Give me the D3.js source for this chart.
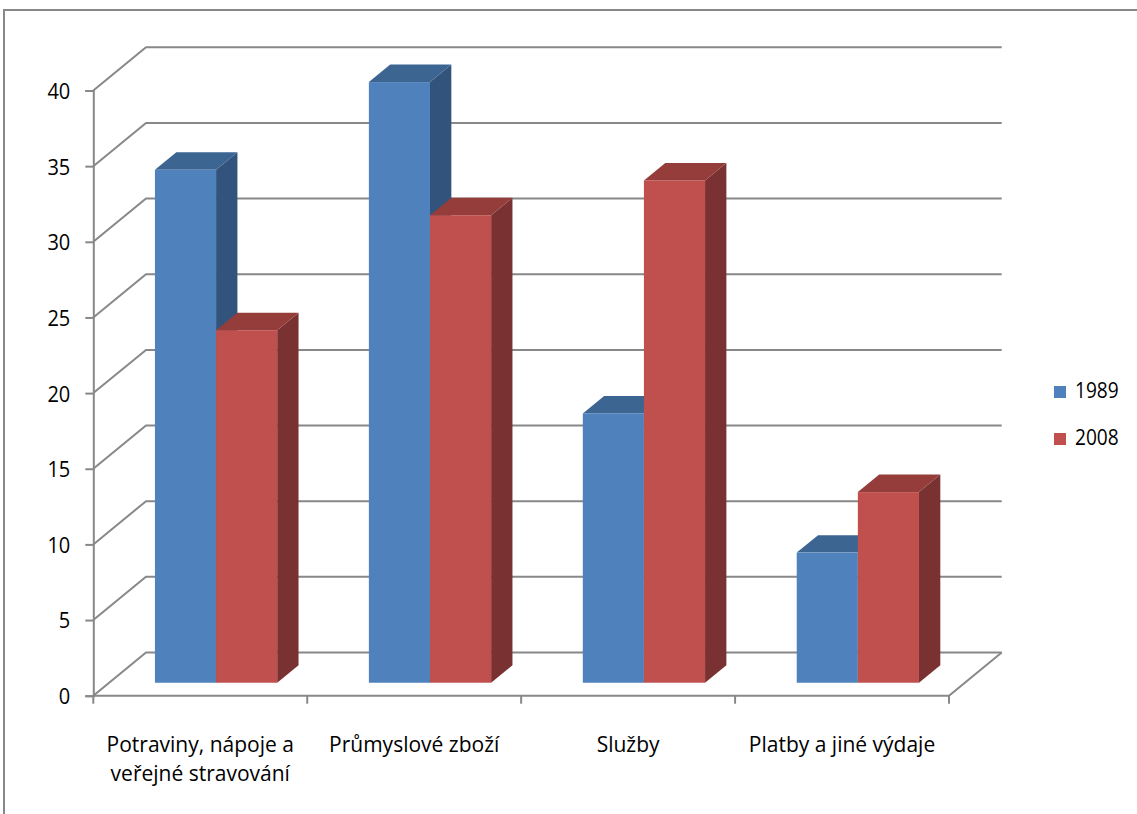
<!DOCTYPE html>
<html>
<head>
<meta charset="utf-8">
<script src="https://cdn.jsdelivr.net/npm/d3@7"></script>
<style>
  body { margin: 0; background: #fff; }
  svg { display: block; }
  text { font-family: "Open Sans", "Noto Sans", sans-serif; fill: #000; }
</style>
</head>
<body>
<svg id="chart" width="1137" height="814"></svg>
<script>
// Household expenditure structure (%), 1989 vs 2008
const categories = ["Potraviny, nápoje a veřejné stravování", "Průmyslové zboží", "Služby", "Platby a jiné výdaje"];
const categoryLines = [["Potraviny, nápoje a", "veřejné stravování"], ["Průmyslové zboží"], ["Služby"], ["Platby a jiné výdaje"]];
const seriesNames = ["1989", "2008"];
const values1989 = [33.9, 39.7, 17.8, 8.6];
const values2008 = [23.3, 30.9, 33.2, 12.6];
const yTicks = [0, 5, 10, 15, 20, 25, 30, 35, 40];

const seriesValues = [values1989, values2008];
const palette = {
  "1989": { front: "#4f81bd", top: "#3d6592", side: "#32537c" },
  "2008": { front: "#c0504d", top: "#943d3b", side: "#7a3131" }
};

const svg = d3.select("#chart");

// digits are drawn slightly condensed
const DIGITS = 0.91;

// Oblique 3D projection: depth 0 = front plane, depth 1 = back wall
const DX = 52.7, DY = 43.2;
const depthFront = 0.3, depthBack = 0.705;

const x = d3.scaleBand().domain(categories).range([93.3, 949]).padding(0);
const y = d3.scaleLinear().domain([0, 40]).range([695.7, 90.5]);
const barW = x.bandwidth() / 3.5;                       // gap width 150 %
const xs = d3.scaleBand().domain(seriesNames).range([0, 2 * barW]).padding(0);
const groupOffset = (x.bandwidth() - 2 * barW) / 2;

const gridColor = "#888888";
const x0 = x.range()[0], x1 = x.range()[1];

// outer chart frame
svg.append("rect").attr("x", 4).attr("y", 10).attr("width", 1300).attr("height", 1000)
  .attr("fill", "none").attr("stroke", gridColor).attr("stroke-width", 2);

const grid = svg.append("g").attr("stroke", gridColor).attr("stroke-width", 2).attr("fill", "none");

// back wall gridlines plus their run along the side wall
grid.selectAll("path.grid").data(yTicks).join("path").attr("class", "grid")
  .attr("d", v => `M${x0},${y(v)}L${x0 + DX},${y(v) - DY}L${x1 + DX},${y(v) - DY}`);

// floor front edge and right edge
grid.append("path").attr("d", `M${x0},${y(0)}L${x1},${y(0)}L${x1 + DX},${y(0) - DY}`);

// value axis
const yAxis = d3.axisLeft(y).tickValues(yTicks).tickSize(8).tickPadding(15).tickFormat(d3.format("d"));
const ya = svg.append("g").attr("transform", `translate(${x0},0)`).call(yAxis);
ya.select(".domain").attr("stroke", gridColor).attr("stroke-width", 2);
ya.selectAll(".tick line").attr("stroke", gridColor).attr("stroke-width", 2);
ya.selectAll(".tick text").attr("font-size", 22).attr("dy", "0.36em")
  .attr("x", -23 / DIGITS).attr("transform", `scale(${DIGITS},1)`)
  .style("font-family", '"Open Sans","Noto Sans",sans-serif');

// category axis ticks at band boundaries
const boundaries = categories.map(c => x(c)).concat([x1]);
svg.append("g").attr("stroke", gridColor).attr("stroke-width", 2)
  .selectAll("line").data(boundaries).join("line")
  .attr("x1", d => d).attr("x2", d => d).attr("y1", y(0)).attr("y2", y(0) + 8);

// bars
const bars = [];
categories.forEach((c, i) => {
  seriesNames.forEach((s, j) => bars.push({ cat: c, series: s, value: seriesValues[j][i] }));
});

const ddx = (depthBack - depthFront) * DX, ddy = (depthBack - depthFront) * DY;
const barG = svg.append("g");
bars.forEach(b => {
  const col = palette[b.series];
  const left = x(b.cat) + groupOffset + xs(b.series) + depthFront * DX;
  const right = left + barW;
  const top = y(b.value) - depthFront * DY;
  const bottom = y(0) - depthFront * DY;
  const g = barG.append("g");
  g.append("path").attr("fill", col.side)
    .attr("d", `M${right},${top}L${right + ddx},${top - ddy}L${right + ddx},${bottom - ddy}L${right},${bottom}Z`);
  g.append("path").attr("fill", col.top)
    .attr("d", `M${left},${top}L${right},${top}L${right + ddx},${top - ddy}L${left + ddx},${top - ddy}Z`);
  g.append("rect").attr("fill", col.front)
    .attr("x", left).attr("y", top).attr("width", barW).attr("height", bottom - top);
});

// category labels, centred under each category
const labels = svg.append("g").attr("text-anchor", "middle").attr("font-size", 21);
categories.forEach((c, i) => {
  const cx = x(c) + x.bandwidth() / 2;
  categoryLines[i].forEach((line, k) => {
    labels.append("text").attr("x", cx).attr("y", 752 + k * 29).text(line);
  });
});

// legend
const legend = svg.append("g").attr("transform", "translate(1054,386)");
const li = legend.selectAll("g").data(seriesNames).join("g")
  .attr("transform", (d, i) => `translate(0,${i * 47})`);
li.append("rect").attr("width", 12).attr("height", 12).attr("fill", d => palette[d].front);
li.append("text").attr("x", 21 / DIGITS).attr("y", 12).attr("font-size", 21)
  .attr("transform", `scale(${DIGITS},1)`).text(d => d);
</script>
</body>
</html>
